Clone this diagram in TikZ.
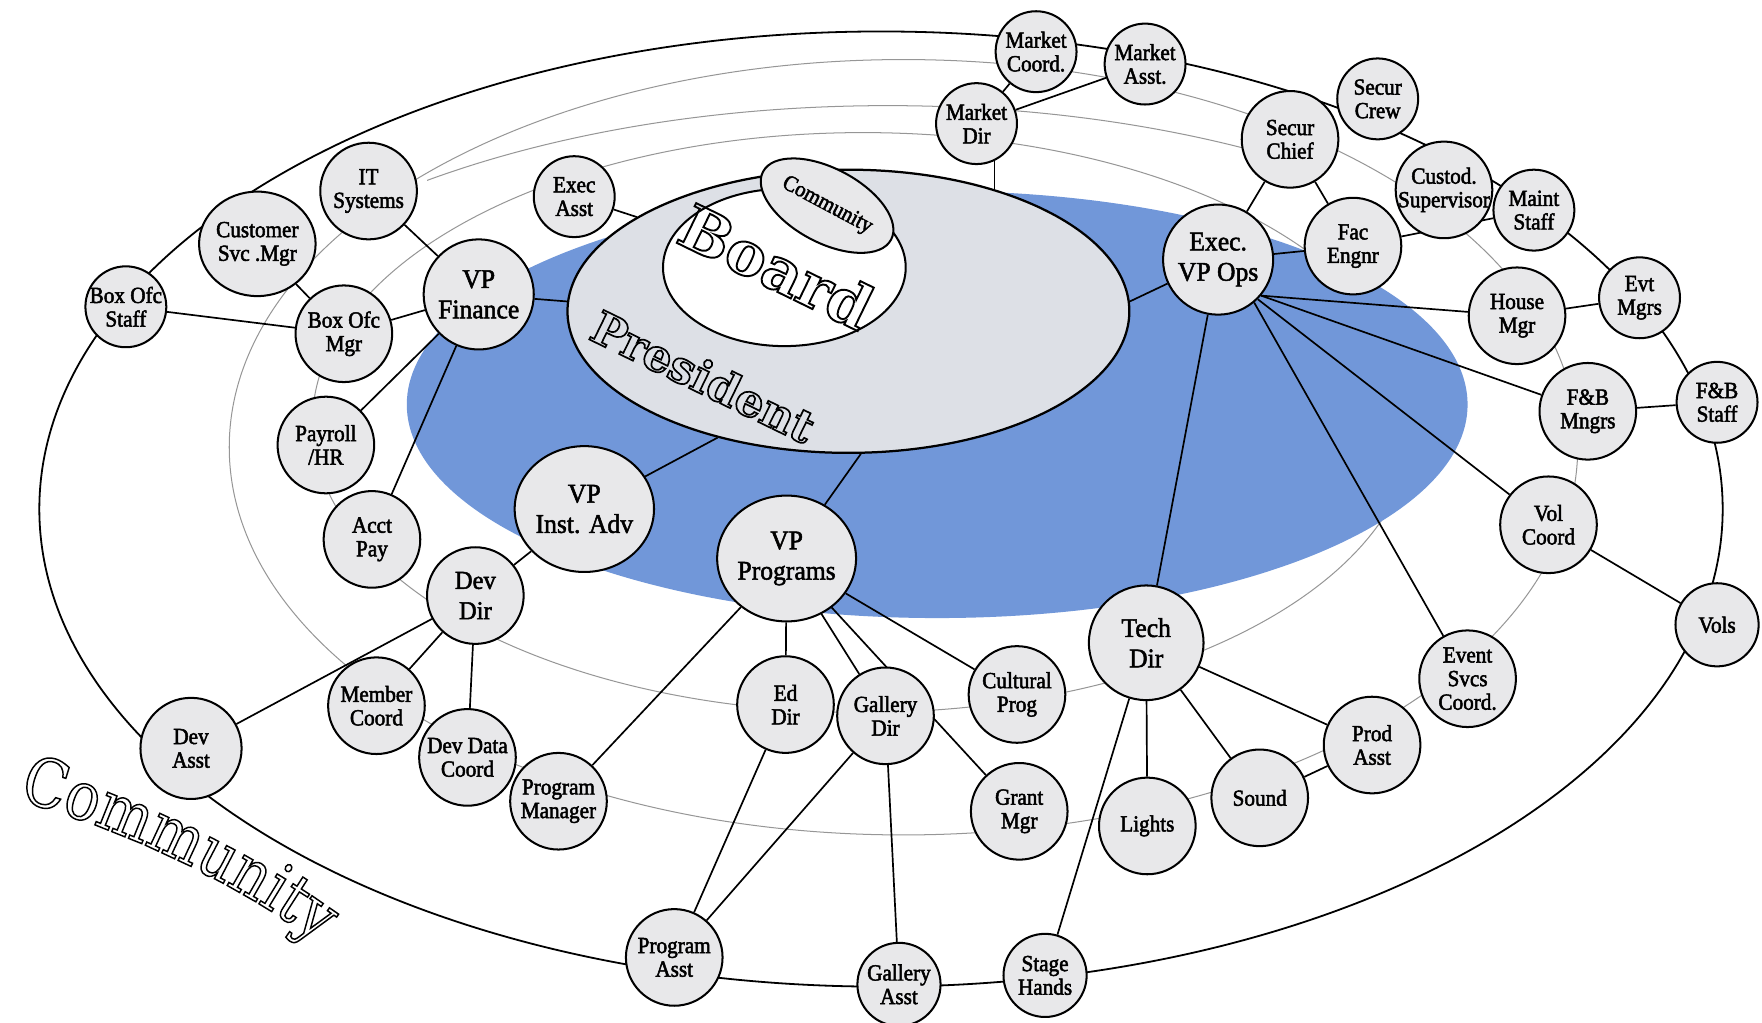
\documentclass[tikz,border=0pt]{standalone}
\usepackage{fontspec}
\setmainfont{Liberation Serif}
\newfontfamily\nf[FakeStretch=0.92]{Liberation Serif}
\newfontfamily\bignf[FakeStretch=0.95]{Liberation Serif}
\newfontfamily\outf{DejaVu Serif}
\newfontfamily\outfc[FakeStretch=0.85]{DejaVu Serif}
\usetikzlibrary{shapes.geometric,decorations.text}
\makeatletter
\newcommand\outlon[1]{\pgfsys@invoke{1 Tr #1 w}}
\newcommand\heavy{\pgfsys@invoke{2 Tr 0.45 w}}
\makeatother
\definecolor{nodegray}{RGB}{232,232,234}
\definecolor{presgray}{RGB}{221,224,230}
\definecolor{blueell}{RGB}{113,151,217}
\definecolor{ringgray}{RGB}{150,150,150}
\pgfdeclarelayer{back}
\pgfdeclarelayer{edges}
\pgfsetlayers{back,edges,main}
\tikzset{
  sn/.style={circle, draw=black, line width=1.8pt, fill=nodegray, inner sep=0pt, minimum size=86pt, align=center, font=\nf\fontsize{20.5}{21}\selectfont\heavy},
  onode/.style={sn, minimum size=72pt},
  bn/.style={sn, minimum size=98pt, font=\bignf\fontsize{24}{27}\selectfont\heavy},
  bell/.style={ellipse, draw=black, line width=1.8pt, fill=nodegray, inner sep=0pt, align=center, font=\bignf\fontsize{24}{27}\selectfont\heavy},
  link/.style={draw=black, line width=1.5pt},
  thinlink/.style={draw=black, line width=1pt},
  ringline/.style={draw=ringgray, line width=0.9pt},
  outerring/.style={draw=black, line width=1.6pt},
}
\begin{document}
\begin{tikzpicture}[x=1pt,y=-1pt]
\useasboundingbox (0,0) rectangle (1568,910);

% central ellipses
\node[ellipse, draw=black, line width=2pt, fill=presgray, minimum width=500pt, minimum height=252pt, inner sep=0pt] (pres) at (755,277) {};
\node[ellipse, draw=black, line width=1.8pt, fill=white, minimum width=216pt, minimum height=140pt, inner sep=0pt] (board) at (698,238) {};
\node[ellipse, rotate=-28, draw=black, line width=1.8pt, fill=nodegray, minimum width=129pt, minimum height=66pt, inner sep=0pt, font=\nf\fontsize{20}{20}\selectfont\heavy] (comm) at (736,183) {Community};
\node[rotate=-26, inner sep=0pt, font=\outf\bfseries\fontsize{54}{54}\selectfont] (boardlbl) at (691,237) {\outlon{1.7}Board};
\node[rotate=-26, inner sep=0pt, font=\outf\bfseries\fontsize{40}{40}\selectfont] (preslbl) at (626,335) {\outlon{1.5}President};

% curved outer label
\begin{scope}
\outlon{1.3}
\path[decorate, decoration={text along path, text align=center, text={|\outfc\fontsize{60}{60}\selectfont|Community}}]
  (-6,706) .. controls (101,733) and (214,785) .. (302,853);
\end{scope}

% nodes
\node[onode] (bostaff) at (112,273) {\makebox[50pt]{Box Ofc}\\Staff};
\node[bell, font=\nf\fontsize{20.5}{21}\selectfont\heavy, minimum width=100pt, minimum height=93pt] (cust) at (229,217) {Customer\\Svc .Mgr};
\node[sn] (it) at (328,170) {IT\\Systems};
\node[onode] (exasst) at (511,175) {Exec\\Asst};
\node[bn] (vpfin) at (426,262) {VP\\Finance};
\node[sn] (bomgr) at (306,297) {Box Ofc\\Mgr};
\node[sn] (payroll) at (290,396) {Payroll\\/HR};
\node[sn] (acct) at (331,480) {Acct\\Pay};
\node[bell, minimum width=124pt, minimum height=112pt] (vpinst) at (520,453) {VP\\Inst. Adv};
\node[bn, minimum size=86pt, font=\bignf\fontsize{23}{27}\selectfont\heavy] (devdir) at (423,530) {Dev\\Dir};
\node[sn] (memb) at (335,628) {Member\\Coord};
\node[sn] (ddata) at (416,674) {Dev Data\\Coord};
\node[sn, minimum size=90pt] (devasst) at (170,666) {Dev\\Asst};
\node[sn] (pmgr) at (497,713) {Program\\Manager};
\node[sn] (passt) at (600,852) {Program\\Asst};
\node[bell, minimum width=120pt, minimum height=112pt] (vpprog) at (700,497) {VP\\Programs};
\node[sn] (eddir) at (699,627) {Ed\\Dir};
\node[sn] (gdir) at (788,637) {Gallery\\Dir};
\node[onode, minimum size=74pt] (gasst) at (800,876) {Gallery\\Asst};
\node[sn] (cult) at (905,618) {Cultural\\Prog};
\node[sn] (grant) at (907,722) {Grant\\Mgr};
\node[onode, minimum size=74pt] (stage) at (930,868) {Stage\\Hands};
\node[bn, minimum size=102pt] (tech) at (1020,572) {Tech\\Dir};
\node[sn] (lights) at (1021,735) {Lights};
\node[sn] (sound) at (1121,710) {Sound};
\node[sn] (prod) at (1221,663) {Prod\\Asst};
\node[sn] (evsvc) at (1306,604) {Event\\Svcs\\Coord.};
\node[sn] (volc) at (1378,467) {Vol\\Coord};
\node[onode, minimum size=74pt] (vols) at (1528,556) {Vols};
\node[sn] (fbm) at (1413,366) {F\&B\\Mngrs};
\node[onode] (fbs) at (1528,358) {F\&B\\Staff};
\node[sn] (house) at (1350,281) {House\\Mgr};
\node[onode] (evt) at (1459,265) {Evt\\Mgrs};
\node[onode] (maint) at (1365,187) {Maint\\Staff};
\node[sn] (custod) at (1285,169) {Custod.\\\makebox[64pt]{Supervisor}};
\node[sn] (fac) at (1204,219) {Fac\\Engnr};
\node[bn] (vpops) at (1084,231) {Exec.\\VP Ops};
\node[sn] (schief) at (1148,124) {Secur\\Chief};
\node[onode] (screw) at (1226,88) {Secur\\Crew};
\node[onode] (mdir) at (869,110) {Market\\Dir};
\node[onode] (mcoord) at (922,46) {Market\\Coord.};
\node[onode] (masst) at (1019,57) {Market\\Asst.};

\coordinate (mdb) at (885,169);

\begin{pgfonlayer}{edges}
\draw[outerring] (784,453) ellipse [x radius=749, y radius=425];
\draw[link] (bostaff) -- (bomgr);
\draw[link] (cust) -- (bomgr);
\draw[link] (bomgr) -- (vpfin);
\draw[link] (it) -- (vpfin);
\draw[link] (vpfin) -- (payroll);
\draw[link] (vpfin) -- (acct);
\draw[link] (vpfin) -- (pres.178);
\draw[link] (exasst) -- (pres.156);
\draw[thinlink] (mdb) -- (mdb |- mdir.center);
\draw[link] (mdir) -- (mcoord);
\draw[link] (mdir) -- (masst);
\draw[link] (vpops) -- (pres.2);
\draw[link] (vpops) -- (schief);
\draw[link] (schief) -- (fac);
\draw[link] (vpops) -- (fac);
\draw[link] (fac) -- (maint);
\draw[link] (vpops.-40) -- (house);
\draw[link] (vpops.-40) -- (fbm);
\draw[link] (vpops.-45) -- (volc);
\draw[link] (vpops.-50) -- (evsvc);
\draw[link] (vpops) -- (tech);
\draw[link] (evt) -- (house);
\draw[link] (fbm) -- (fbs);
\draw[link] (volc) -- (vols);
\draw[link] (tech) -- (prod);
\draw[link] (prod) -- (sound);
\draw[link] (tech) -- (sound);
\draw[link] (tech) -- (lights);
\draw[link] (tech) -- (stage);
\draw[link] (vpprog) -- (cult);
\draw[link] (vpprog) -- (grant);
\draw[link] (vpprog) -- (gdir);
\draw[link] (vpprog) -- (eddir);
\draw[link] (vpprog) -- (pmgr);
\draw[link] (vpprog) -- (pres.275);
\draw[link] (vpinst) -- (pres.224);
\draw[link] (vpinst) -- (devdir);
\draw[link] (devdir) -- (memb);
\draw[link] (devdir) -- (ddata);
\draw[link] (devdir) -- (devasst);
\draw[link] (eddir) -- (passt);
\draw[link] (gdir) -- (passt);
\draw[link] (gdir) -- (gasst);
\end{pgfonlayer}

\begin{pgfonlayer}{back}
\draw[ringline] (804,398) ellipse [x radius=600, y radius=345];
\draw[ringline] (768,376) ellipse [x radius=490, y radius=258];
\begin{scope}
\clip (380,0) rectangle (1110,175);
\draw[ringline] (790,420) ellipse [x radius=677, y radius=326];
\end{scope}
\fill[blueell] (834,360) ellipse [x radius=472, y radius=190];
\end{pgfonlayer}
\end{tikzpicture}
\end{document}
